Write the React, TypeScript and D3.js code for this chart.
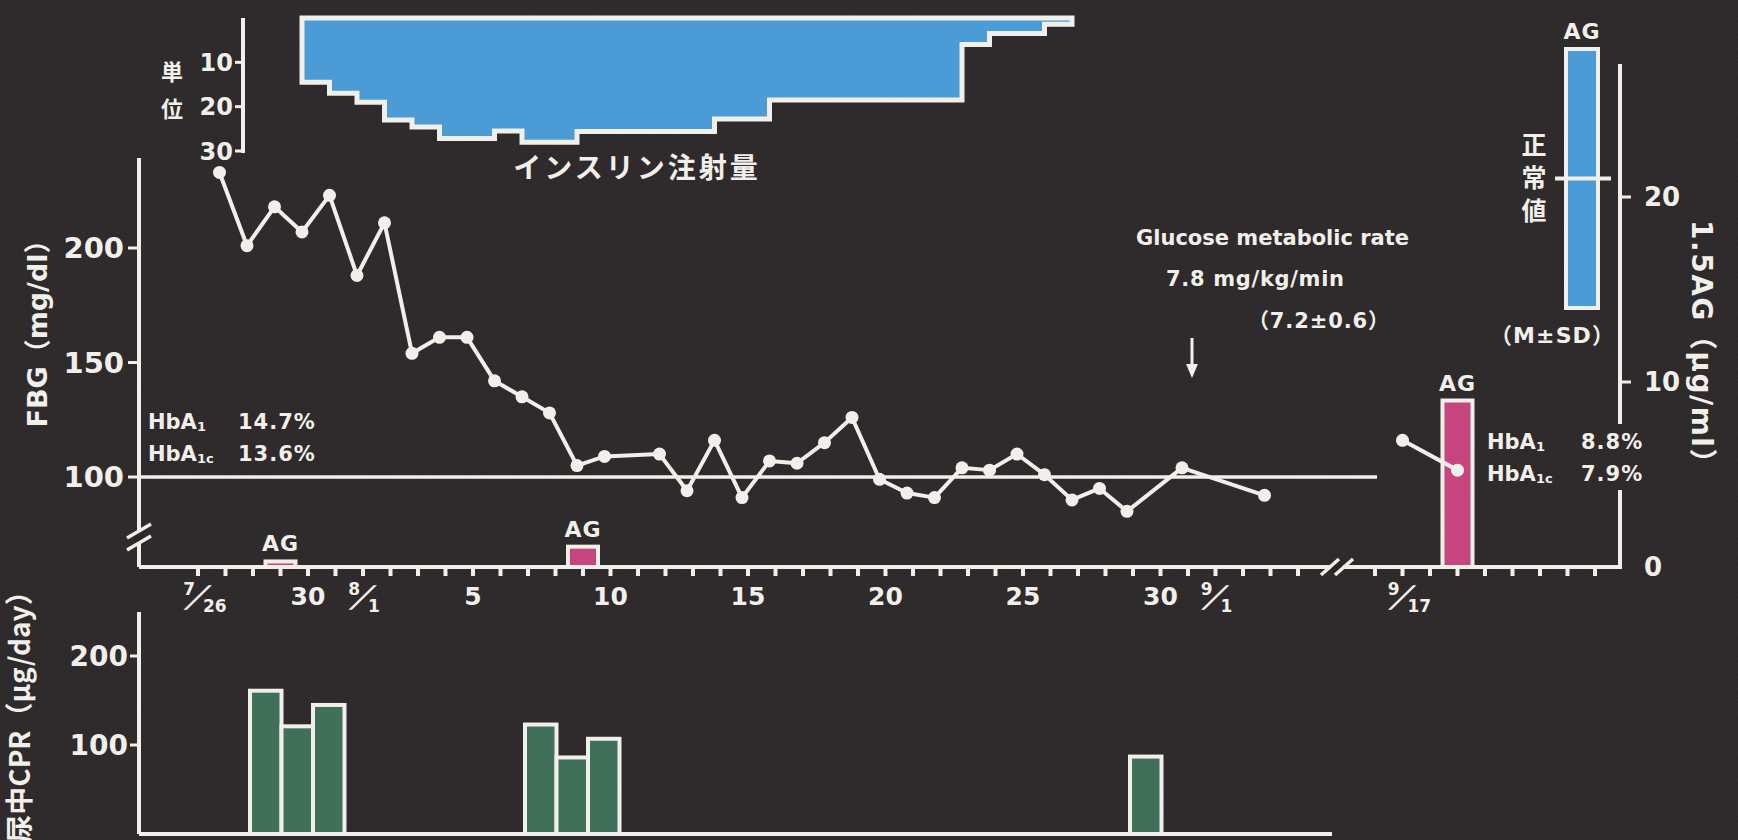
import * as d3 from 'd3';

// Values. Dates are M/D; day 0 is 7/26.
const FBG_DATES = [
  '7/27', '7/28', '7/29', '7/30', '7/31', '8/1', '8/2', '8/3', '8/4', '8/5',
  '8/6', '8/7', '8/8', '8/9', '8/10', '8/12', '8/13', '8/14', '8/15', '8/16',
  '8/17', '8/18', '8/19', '8/20', '8/21', '8/22', '8/23', '8/24', '8/25', '8/26',
  '8/27', '8/28', '8/29', '8/31', '9/3',
];
const FBG_VALUES = [
  233, 201, 218, 207, 223, 188, 211, 154, 161, 161,
  142, 135, 128, 105, 109, 110, 94, 116, 91, 107,
  106, 115, 126, 99, 93, 91, 104, 103, 110, 101,
  90, 95, 85, 104, 92,
];
const FBG_LATE_DATES = ['9/17', '9/19'];
const FBG_LATE_VALUES = [116, 103];

const INSULIN_DATES = ['7/30', '7/31', '8/1', '8/2', '8/3', '8/4', '8/6', '8/7', '8/9', '8/14', '8/16', '8/23', '8/24', '8/26'];
const INSULIN_DOSES = [14.5, 17, 19, 23, 24.6, 27.2, 25.5, 28, 25.6, 22.8, 18.5, 6, 3.5, 1.4];
const INSULIN_END = '8/27';

const AG_DATES = ['7/29', '8/9', '9/19'];
const AG_VALUES = [0.3, 1.1, 9.0];
const AG_NORMAL_MEAN = 21;
const AG_NORMAL_SD = 7;

const CPR_GROUP_DATES = ['7/28', '8/7', '8/29'];
const CPR_GROUP_VALUES = [[161, 121, 145], [123, 86, 107], [87]];

const X_LABEL_DATES = ['7/26', '7/30', '8/1', '8/5', '8/10', '8/15', '8/20', '8/25', '8/30', '9/1', '9/17'];
const X_LABEL_TEXTS = ['7/26', '30', '8/1', '5', '10', '15', '20', '25', '30', '9/1', '9/17'];
const FBG_TICKS = [100, 150, 200];
const AG_TICKS = [10, 20];
const INSULIN_TICKS = [10, 20, 30];
const CPR_TICKS = [100, 200];

const W = 1738;
const H = 840;
const BG = '#2a2526';
const INK = '#f1efea';
const BLUE = '#4a9bd6';
const MAGENTA = '#c7457f';
const GREEN = '#40705a';
const LATIN = "'DejaVu Sans', 'Noto Sans CJK JP', sans-serif";
const CJK = "'Noto Sans CJK JP', 'DejaVu Sans', sans-serif";

const LEFT_X = 139;
const RIGHT_X = 1620;
const AXIS_Y = 567;
const INS_X = 243;
const CPR_END = 1332;
const DATA_SHIFT = -6;
const CPR_SHIFT = -3;
const CPR_BAR_W = 31.5;

function dayOf(date: string): number {
  const [m, d] = date.split('/').map(Number);
  const monthStart: Record<number, number> = { 7: 0, 8: 31, 9: 62 };
  return monthStart[m] + d - 26;
}

function FracLabel({ x, y, num, den }: { x: number; y: number; num: string; den: string }) {
  return (
    <g fill={INK} fontFamily={LATIN} fontWeight="bold">
      <text x={x - 3} y={y - 10} fontSize={17} textAnchor="end">{num}</text>
      <text transform={`translate(${x - 7},${y + 2}) skewX(-35)`} fontSize={30} textAnchor="middle">/</text>
      <text x={x + 5} y={y + 7} fontSize={17}>{den}</text>
    </g>
  );
}

function HbaRows({ x, y, valueX, values }: { x: number; y: number; valueX: number; values: string[] }) {
  return (
    <g fill={INK} fontFamily={LATIN} fontWeight="bold" fontSize={21}>
      <text x={x} y={y}>
        HbA<tspan fontSize={13} dy={2}>1</tspan>
      </text>
      <text x={valueX} y={y} letterSpacing={1}>{values[0]}</text>
      <text x={x} y={y + 32}>
        HbA<tspan fontSize={13} dy={2}>1c</tspan>
      </text>
      <text x={valueX} y={y + 32} letterSpacing={1}>{values[1]}</text>
    </g>
  );
}

export default function App() {
  const x = d3.scaleLinear().domain([0, 40, 52, 60]).range([198, 1298, 1375, 1595]);
  const yFbg = d3.scaleLinear().domain([100, 200]).range([477, 248]);
  const yAg = d3.scaleLinear().domain([0, 20]).range([AXIS_Y, 197]);
  const yIns = d3.scaleLinear().domain([0, 30]).range([18, 151]);
  const yCpr = d3.scaleLinear().domain([0, 200]).range([834, 656]);

  const fbg: [number, number][] = FBG_DATES.map((d, i) => [dayOf(d), FBG_VALUES[i]]);
  const fbgLate: [number, number][] = FBG_LATE_DATES.map((d, i) => [dayOf(d), FBG_LATE_VALUES[i]]);
  const line = d3
    .line<[number, number]>()
    .x((p) => x(p[0]) + DATA_SHIFT)
    .y((p) => yFbg(p[1]));
  const lineLate = d3
    .line<[number, number]>()
    .x((p) => x(p[0]))
    .y((p) => yFbg(p[1]));

  const insulin: [number, number][] = INSULIN_DATES.map((d, i) => [dayOf(d), INSULIN_DOSES[i]]);
  insulin.push([dayOf(INSULIN_END), INSULIN_DOSES[INSULIN_DOSES.length - 1]]);
  const insulinArea = d3
    .area<[number, number]>()
    .curve(d3.curveStepAfter)
    .x((p) => x(p[0]) + DATA_SHIFT)
    .y0(yIns(0))
    .y1((p) => yIns(p[1]));

  const tickDays = [...d3.range(0, 41), ...d3.range(52, 61)];
  const breakX = 1337;
  const breakY = 537;
  const clampX = x(dayOf('8/31')) + 4;

  return (
    <div style={{ position: 'fixed', left: 0, top: 0, width: W, height: H, background: BG }}>
      <svg width={W} height={H} viewBox={`0 0 ${W} ${H}`} style={{ display: 'block' }}>
        <defs>
          <filter id="grain" x="0" y="0" width="100%" height="100%">
            <feTurbulence type="fractalNoise" baseFrequency="0.8" numOctaves="2" seed="7" />
            <feColorMatrix type="saturate" values="0" />
            <feComponentTransfer>
              <feFuncA type="table" tableValues="0 0.07" />
            </feComponentTransfer>
          </filter>
        </defs>
        <rect width={W} height={H} fill={BG} />
        <rect width={W} height={H} filter="url(#grain)" />

        {/* insulin dose, hanging from the top */}
        <path d={insulinArea(insulin) ?? ''} fill={BLUE} stroke={INK} strokeWidth={5} strokeLinejoin="miter" />
        <line x1={INS_X} x2={INS_X} y1={yIns(0)} y2={yIns(30) + 2} stroke={INK} strokeWidth={4} />
        {INSULIN_TICKS.map((t) => (
          <g key={t}>
            <line x1={INS_X - 8} x2={INS_X} y1={yIns(t)} y2={yIns(t)} stroke={INK} strokeWidth={3} />
            <text x={INS_X - 10} y={yIns(t)} dy="0.36em" textAnchor="end" fill={INK} fontFamily={LATIN} fontWeight="bold" fontSize={24}>
              {t}
            </text>
          </g>
        ))}
        <g fill={INK} fontFamily={CJK} fontWeight="bold" fontSize={22} textAnchor="middle">
          <text x={172} y={80}>単</text>
          <text x={172} y={117}>位</text>
        </g>
        <text x={637} y={178} textAnchor="middle" fill={INK} fontFamily={CJK} fontWeight="bold" fontSize={28} letterSpacing={3}>
          インスリン注射量
        </text>

        {/* FBG reference line at 100 */}
        <line x1={LEFT_X} x2={1377} y1={yFbg(100)} y2={yFbg(100)} stroke={INK} strokeWidth={3.5} />

        {/* left FBG axis with break */}
        <line x1={LEFT_X} x2={LEFT_X} y1={158} y2={AXIS_Y} stroke={INK} strokeWidth={4} />
        <rect x={LEFT_X - 5} y={breakY - 5} width={10} height={10} fill={BG} />
        {[breakY - 6, breakY + 6].map((yy) => (
          <line key={yy} x1={LEFT_X - 12} y1={yy + 7} x2={LEFT_X + 12} y2={yy - 7} stroke={INK} strokeWidth={3.5} />
        ))}
        {FBG_TICKS.map((t) => (
          <g key={t}>
            <line x1={LEFT_X - 11} x2={LEFT_X} y1={yFbg(t)} y2={yFbg(t)} stroke={INK} strokeWidth={3} />
            <text x={LEFT_X - 15} y={yFbg(t)} dy="0.36em" textAnchor="end" fill={INK} fontFamily={LATIN} fontWeight="bold" fontSize={29}>
              {t}
            </text>
          </g>
        ))}
        <text transform={`translate(47,327) rotate(-90)`} textAnchor="middle" fill={INK} fontFamily={LATIN} fontWeight="bold" fontSize={27}>
          FBG（mg/dl）
        </text>

        {/* x axis with break */}
        <line x1={LEFT_X} x2={RIGHT_X} y1={AXIS_Y} y2={AXIS_Y} stroke={INK} strokeWidth={4} />
        <rect x={breakX - 6} y={AXIS_Y - 5} width={12} height={10} fill={BG} />
        {[breakX - 7, breakX + 7].map((xx) => (
          <line key={xx} x1={xx - 9} y1={AXIS_Y + 8} x2={xx + 9} y2={AXIS_Y - 8} stroke={INK} strokeWidth={3.5} />
        ))}
        {tickDays.map((d) => (
          <line key={d} x1={x(d)} x2={x(d)} y1={AXIS_Y} y2={AXIS_Y + 9} stroke={INK} strokeWidth={4} />
        ))}
        {X_LABEL_DATES.map((date, i) => {
          const label = X_LABEL_TEXTS[i];
          const xx = x(dayOf(date));
          if (label.includes('/')) {
            const [num, den] = label.split('/');
            return <FracLabel key={date} x={xx} y={605} num={num} den={den} />;
          }
          return (
            <text key={date} x={xx} y={605} textAnchor="middle" fill={INK} fontFamily={LATIN} fontWeight="bold" fontSize={25}>
              {label}
            </text>
          );
        })}

        {/* right 1.5AG axis */}
        <line x1={RIGHT_X} x2={RIGHT_X} y1={64} y2={424} stroke={INK} strokeWidth={4} />
        <line x1={RIGHT_X} x2={RIGHT_X} y1={490} y2={AXIS_Y + 2} stroke={INK} strokeWidth={4} />
        {AG_TICKS.map((t) => (
          <line key={t} x1={RIGHT_X} x2={RIGHT_X + 11} y1={yAg(t)} y2={yAg(t)} stroke={INK} strokeWidth={3} />
        ))}
        {[0, ...AG_TICKS].map((t) => (
          <text key={t} x={RIGHT_X + 24} y={yAg(t)} dy="0.36em" fill={INK} fontFamily={LATIN} fontWeight="bold" fontSize={26}>
            {t}
          </text>
        ))}
        <text transform={`translate(1692,349) rotate(90)`} textAnchor="middle" fill={INK} fontFamily={LATIN} fontWeight="bold" fontSize={28} letterSpacing={1.5}>
          1.5AG（μg/ml）
        </text>

        {/* normal range of 1.5AG */}
        <rect
          x={1566}
          width={32}
          y={yAg(AG_NORMAL_MEAN + AG_NORMAL_SD)}
          height={yAg(AG_NORMAL_MEAN - AG_NORMAL_SD) - yAg(AG_NORMAL_MEAN + AG_NORMAL_SD)}
          fill={BLUE}
          stroke={INK}
          strokeWidth={4}
        />
        <line x1={1555} x2={1611} y1={yAg(AG_NORMAL_MEAN)} y2={yAg(AG_NORMAL_MEAN)} stroke={INK} strokeWidth={4} />
        <text x={1582} y={yAg(AG_NORMAL_MEAN + AG_NORMAL_SD) - 10} textAnchor="middle" fill={INK} fontFamily={LATIN} fontWeight="bold" fontSize={22} letterSpacing={1}>
          AG
        </text>
        <g fill={INK} fontFamily={CJK} fontWeight="bold" fontSize={25} textAnchor="middle">
          <text x={1534} y={154}>正</text>
          <text x={1534} y={187}>常</text>
          <text x={1534} y={220}>値</text>
        </g>
        <text x={1490} y={343} textLength={124} fill={INK} fontFamily={LATIN} fontWeight="bold" fontSize={22}>
          （M±SD）
        </text>

        {/* measured 1.5AG */}
        {AG_DATES.map((date, i) => {
          const cx = x(dayOf(date));
          const top = yAg(AG_VALUES[i]);
          return (
            <g key={date}>
              <rect x={cx - 15} width={30} y={top} height={AXIS_Y - top} fill={MAGENTA} stroke={INK} strokeWidth={4} />
              <text x={cx} y={top - 10} textAnchor="middle" fill={INK} fontFamily={LATIN} fontWeight="bold" fontSize={22} letterSpacing={1}>
                AG
              </text>
            </g>
          );
        })}

        {/* FBG line */}
        <path d={line(fbg) ?? ''} fill="none" stroke={INK} strokeWidth={4} strokeLinejoin="round" />
        <path d={lineLate(fbgLate) ?? ''} fill="none" stroke={INK} strokeWidth={4} />
        {fbg.map((p) => (
          <circle key={p[0]} cx={x(p[0]) + DATA_SHIFT} cy={yFbg(p[1])} r={6.5} fill={INK} />
        ))}
        {fbgLate.map((p) => (
          <circle key={p[0]} cx={x(p[0])} cy={yFbg(p[1])} r={6.5} fill={INK} />
        ))}

        <HbaRows x={148} y={429} valueX={238} values={['14.7%', '13.6%']} />
        <HbaRows x={1487} y={449} valueX={1581} values={['8.8%', '7.9%']} />

        {/* glucose clamp annotation */}
        <g fill={INK} fontFamily={LATIN} fontWeight="bold" fontSize={21}>
          <text x={1136} y={245}>Glucose metabolic rate</text>
          <text x={1166} y={286} textLength={178}>7.8 mg/kg/min</text>
          <text x={1248} y={328} textLength={141}>（7.2±0.6）</text>
        </g>
        <line x1={clampX} x2={clampX} y1={338} y2={366} stroke={INK} strokeWidth={3} />
        <path d={`M${clampX - 6},364 L${clampX + 6},364 L${clampX},378 Z`} fill={INK} />

        {/* urinary CPR */}
        <line x1={LEFT_X} x2={LEFT_X} y1={612} y2={yCpr(0)} stroke={INK} strokeWidth={4} />
        <line x1={LEFT_X} x2={CPR_END} y1={yCpr(0)} y2={yCpr(0)} stroke={INK} strokeWidth={4} />
        {CPR_TICKS.map((t) => (
          <g key={t}>
            <line x1={LEFT_X - 9} x2={LEFT_X} y1={yCpr(t)} y2={yCpr(t)} stroke={INK} strokeWidth={3} />
            <text x={LEFT_X - 11} y={yCpr(t)} dy="0.36em" textAnchor="end" fill={INK} fontFamily={LATIN} fontWeight="bold" fontSize={28}>
              {t}
            </text>
          </g>
        ))}
        {CPR_GROUP_DATES.map((date, g) =>
          CPR_GROUP_VALUES[g].map((v, i) => {
            const left = x(dayOf(date)) + CPR_SHIFT + i * CPR_BAR_W;
            return (
              <rect
                key={`${date}-${i}`}
                x={left}
                width={CPR_BAR_W}
                y={yCpr(v)}
                height={yCpr(0) - yCpr(v)}
                fill={GREEN}
                stroke={INK}
                strokeWidth={4}
              />
            );
          })
        )}
        <text transform={`translate(30,710) rotate(-90)`} textAnchor="middle" fill={INK} fontFamily={CJK} fontWeight="bold" fontSize={28}>
          尿中CPR（μg/day）
        </text>
      </svg>
    </div>
  );
}
